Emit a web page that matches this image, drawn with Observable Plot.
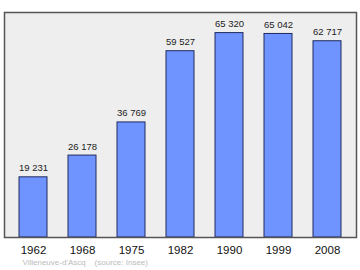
<!DOCTYPE html>
<html>
<head>
<meta charset="utf-8">
<script src="https://cdn.jsdelivr.net/npm/d3@7"></script>
<script src="https://cdn.jsdelivr.net/npm/@observablehq/plot@0.6"></script>
<style>
  html, body { margin: 0; padding: 0; background: #fff; }
  #chart { width: 360px; height: 270px; }
</style>
</head>
<body>
<div id="chart"></div>
<script>
const years = ["1962", "1968", "1975", "1982", "1990", "1999", "2008"];
const population = [19231, 26178, 36769, 59527, 65320, 65042, 62717];
const labels = ["19 231", "26 178", "36 769", "59 527", "65 320", "65 042", "62 717"];
const caption = "Villeneuve-d'Ascq    (source: Insee)";

const data = years.map((y, i) => ({year: y, pop: population[i], label: labels[i]}));

const chart = Plot.plot({
  width: 360,
  height: 270,
  marginTop: 12,
  marginBottom: 33,
  marginLeft: 4,
  marginRight: 4,
  style: {fontFamily: "'Liberation Sans', Arial, sans-serif", background: "#fff", overflow: "visible"},
  x: {domain: years, paddingInner: 0.42, paddingOuter: 0.29, label: null},
  y: {domain: [0, 71900], label: null, axis: null},
  marks: [
    Plot.frame({fill: "#eeeeee"}),
    Plot.barY(data, {x: "year", y: "pop", fill: "#7094ff", stroke: "#1e2a5e", strokeWidth: 1}),
    Plot.text(data, {x: "year", y: "pop", text: "label", lineAnchor: "bottom", dy: -6, fontSize: 9.5, fill: "#222"}),
    Plot.frame({stroke: "#555", strokeWidth: 1.5}),
    Plot.axisX({tickSize: 0, tickPadding: 8, fontSize: 11.5, fill: "#111"}),
    Plot.text([caption], {frameAnchor: "bottom-left", dx: 18, dy: 25, lineAnchor: "middle", fontSize: 8, fill: "#bbb"})
  ]
});
document.getElementById("chart").append(chart);
</script>
</body>
</html>
